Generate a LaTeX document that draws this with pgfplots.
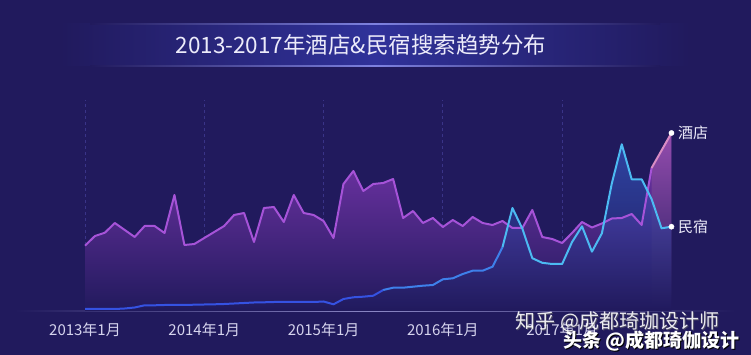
\documentclass[border=0pt]{standalone}
\usepackage{fontspec}
\setmainfont{Noto Sans CJK SC}
\usepackage{pgfplots}
\pgfplotsset{compat=1.18}
\usepackage{pgfplotstable}
\definecolor{bg}{HTML}{211A5D}
\definecolor{band}{HTML}{30329A}
\definecolor{bandline}{HTML}{7E82E0}
\definecolor{titlecol}{HTML}{ECEBFA}
\definecolor{tickc}{HTML}{D6D4EE}
\definecolor{gridc}{HTML}{3A3488}
\definecolor{basec}{HTML}{8A86C4}
\definecolor{hotline}{HTML}{A653D8}
\definecolor{hotpink}{HTML}{D98CC4}
\definecolor{hotfill}{HTML}{7A36AE}
\definecolor{pinkfill}{HTML}{B66AB0}
\definecolor{blueA}{HTML}{3552E2}
\definecolor{blueB}{HTML}{3E80EA}
\definecolor{blueC}{HTML}{4CBAF2}
\definecolor{bluefill}{HTML}{3A66DA}

\pgfplotstableread{
i h b
0 65.3 2.0
1 75 2.0
2 78.3 2.0
3 88 2.0
4 81 2.5
5 74 3.5
6 85 5.7
7 85 5.7
8 78 6.0
9 116 6.0
10 66 6.0
11 67 6.3
12 73 6.5
13 79 6.7
14 85 7.0
15 96 7.5
16 98 8.0
17 69 8.5
18 103 8.7
19 104 9.0
20 89 9.0
21 116 9.0
22 98 9.0
23 96 9.0
24 90 9.5
25 73 6.7
26 127 12.0
27 140 13.7
28 120 14.3
29 127 15.3
30 128 21.0
31 132 23.3
32 93 23.3
33 100 24.3
34 88 25.3
35 93 26.0
36 84 31.7
37 91 32.7
38 85 37.0
39 94 40.3
40 88 40.3
41 86 44.3
42 90 63.7
43 83 103.0
44 83 82.3
45 101 52.8
46 74 48.2
47 72 47.0
48 68 47.0
49 78 69.0
50 89 84.7
51 83.5 59.3
52 87.5 77.7
53 92.5 127.7
54 93 166.7
55 97 131.7
56 86 131.7
57 143 112.0
58 160.5 82.7
59 178 84.3
}\data

\begin{document}
\begin{tikzpicture}[x=1pt,y=1pt]
\useasboundingbox (0,0) rectangle (751,355);
\fill[bg] (0,0) rectangle (751,355);
% title band
\shade[left color=bg, right color=bg, middle color=band] (60,289) rectangle (690,331);
\shade[left color=bg, right color=bg, middle color=bandline] (90,330.3) rectangle (660,331.4);
\shade[left color=bg, right color=bg, middle color=bandline] (90,288.6) rectangle (660,289.7);
\node[text=titlecol, font=\fontsize{22.5}{26}\selectfont] at (361,310) {2013-2017年酒店\&民宿搜索趋势分布};
% baseline
\shade[left color=bg, right color=bg, middle color=basec] (15,43.4) rectangle (735,44.6);
\begin{axis}[
  at={(85pt,44pt)}, anchor=south west,
  x=9.94pt, y=1pt,
  xmin=0, xmax=59, ymin=0, ymax=211,
  clip=false,
  axis line style={draw=none},
  ytick=\empty,
  xtick={0,12,24,36,48},
  xticklabels={2013年1月,2014年1月,2015年1月,2016年1月,2017年1月},
  major tick length=0pt,
  xmajorgrids,
  grid style={dash pattern=on 3pt off 3pt, color=gridc, line width=0.8pt},
  xticklabel style={anchor=center, yshift=-19pt, text=tickc, font=\fontsize{15}{17}\selectfont},
]
\addplot[draw=none, top color=hotfill, bottom color=bg] table[x=i,y=h]{\data} \closedcycle;
\addplot[draw=none, top color=pinkfill, bottom color=bg, fill opacity=0.45, restrict x to domain=57:59] table[x=i,y=h]{\data} \closedcycle;
\addplot[draw=none, top color=bluefill, bottom color=bg, fill opacity=0.55] table[x=i,y=b]{\data} \closedcycle;
\addplot[hotline, line width=2pt, line join=round, restrict x to domain=0:57] table[x=i,y=h]{\data};
\addplot[hotpink, line width=2pt, line join=round, restrict x to domain=57:59] table[x=i,y=h]{\data};
\addplot[blueA, line width=2pt, line join=round, restrict x to domain=0:30] table[x=i,y=b]{\data};
\addplot[blueB, line width=2pt, line join=round, restrict x to domain=30:42] table[x=i,y=b]{\data};
\addplot[blueC, line width=2pt, line join=round, restrict x to domain=42:59] table[x=i,y=b]{\data};
\addplot[only marks, mark=*, mark size=2.6pt, white] coordinates {(59,178) (59,84.3)};
\node[anchor=west, text=titlecol, font=\fontsize{15}{17}\selectfont, xshift=3pt] at (axis cs:59,178) {酒店};
\node[anchor=west, text=titlecol, font=\fontsize{15}{17}\selectfont, xshift=3pt] at (axis cs:59,84.3) {民宿};
\end{axis}
% watermarks
\node[text=black!60, opacity=0.6, font=\fontsize{20}{22}\selectfont] at (618.5,32) {知乎 @成都琦珈设计师};
\node[text=white, opacity=0.9, font=\fontsize{20}{22}\selectfont] at (617.5,33) {知乎 @成都琦珈设计师};
\node[text=black, font=\fontsize{19}{21}\selectfont\bfseries] at (652.5,13) {头条 @成都琦伽设计};
\node[text=white, font=\fontsize{19}{21}\selectfont\bfseries] at (651.5,14) {头条 @成都琦伽设计};
\end{tikzpicture}
\end{document}
